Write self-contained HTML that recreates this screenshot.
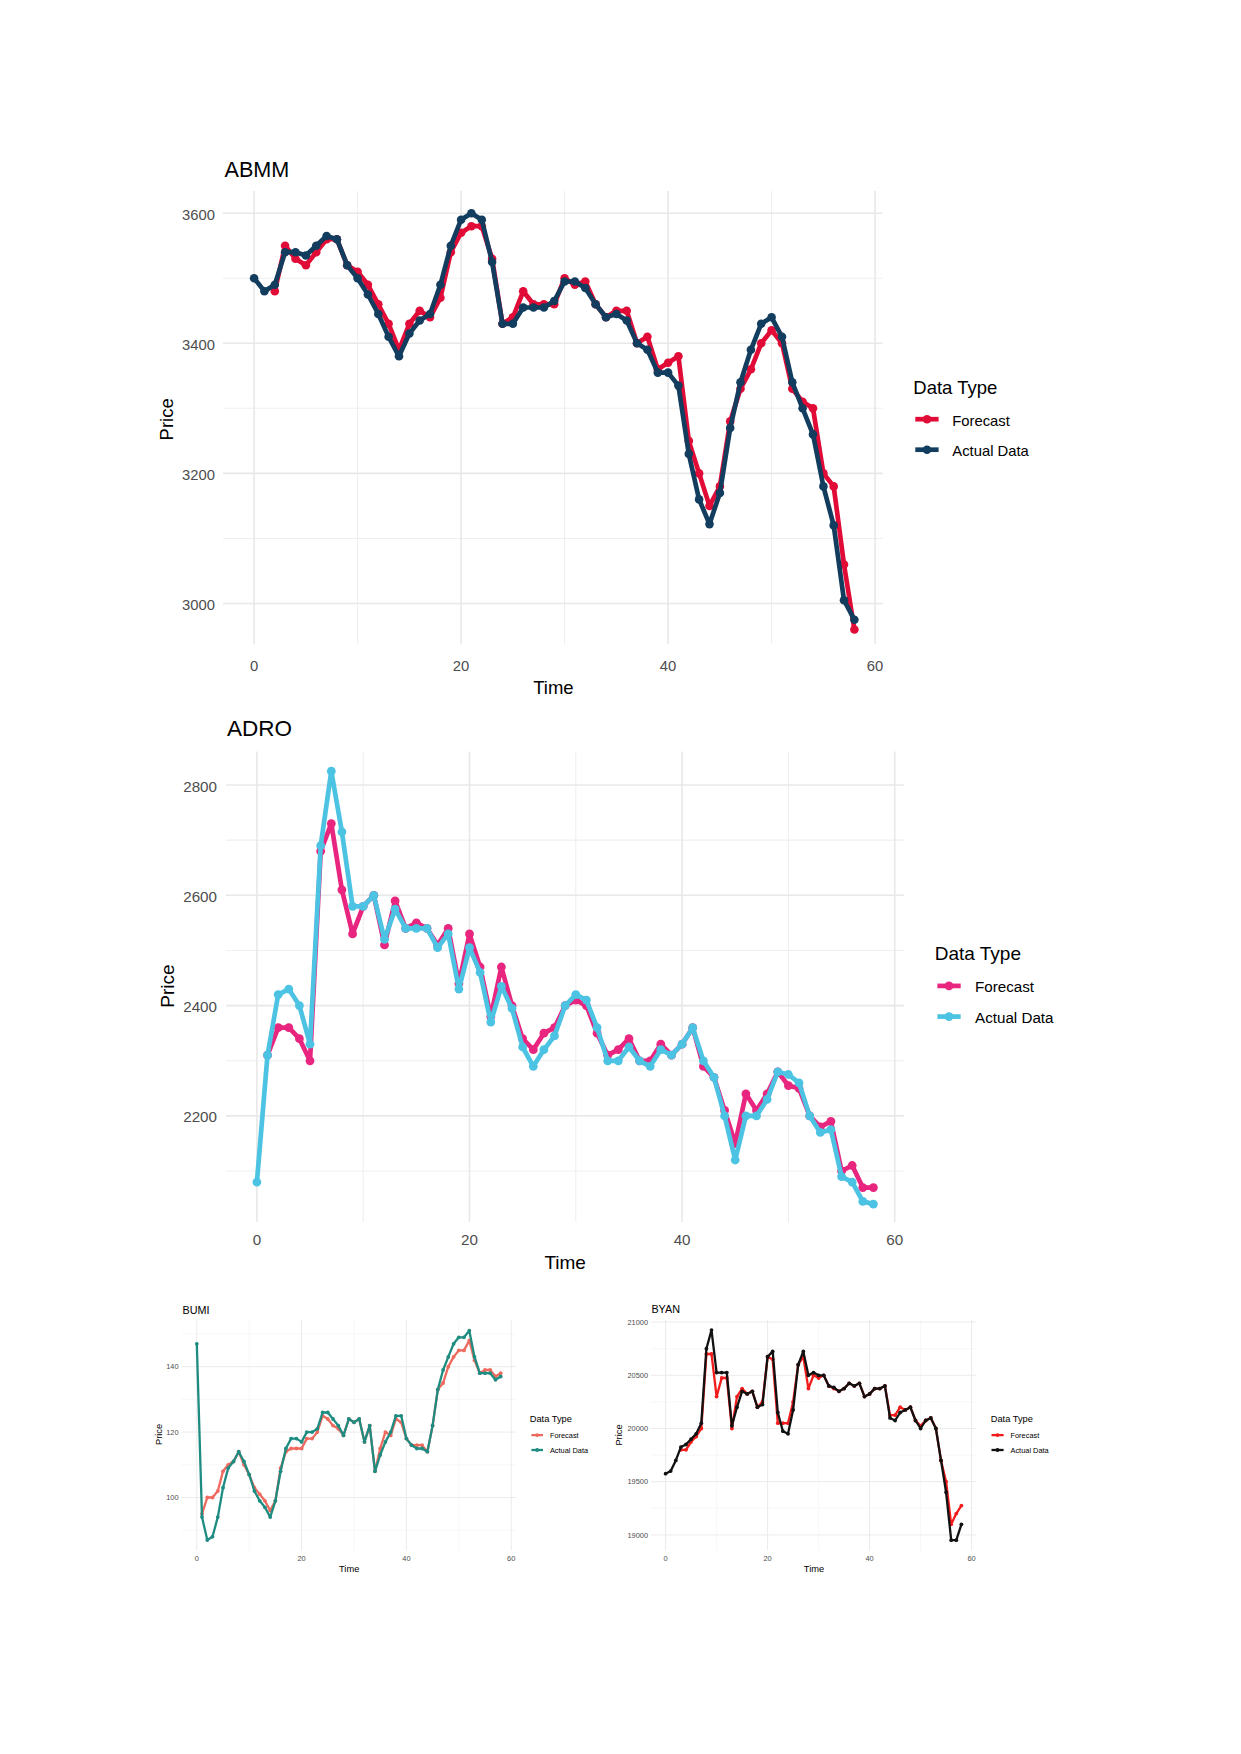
<!DOCTYPE html>
<html><head><meta charset="utf-8"><title>Forecast charts</title>
<style>
html,body{margin:0;padding:0;background:#fff;}
body{width:1241px;height:1754px;overflow:hidden;}
svg{display:block;font-family:"Liberation Sans", sans-serif;}
</style></head>
<body>
<svg width="1241" height="1754" viewBox="0 0 1241 1754">
<rect width="1241" height="1754" fill="#fff"/>
<line x1="357.6" y1="191" x2="357.6" y2="644" stroke="#efefef" stroke-width="1.1"/>
<line x1="564.6" y1="191" x2="564.6" y2="644" stroke="#efefef" stroke-width="1.1"/>
<line x1="771.6" y1="191" x2="771.6" y2="644" stroke="#efefef" stroke-width="1.1"/>
<line x1="223" y1="538.5" x2="882.5" y2="538.5" stroke="#efefef" stroke-width="1.1"/>
<line x1="223" y1="408.3" x2="882.5" y2="408.3" stroke="#efefef" stroke-width="1.1"/>
<line x1="223" y1="278.2" x2="882.5" y2="278.2" stroke="#efefef" stroke-width="1.1"/>
<line x1="254.1" y1="191" x2="254.1" y2="644" stroke="#e8e8e8" stroke-width="1.6"/>
<line x1="461.1" y1="191" x2="461.1" y2="644" stroke="#e8e8e8" stroke-width="1.6"/>
<line x1="668.1" y1="191" x2="668.1" y2="644" stroke="#e8e8e8" stroke-width="1.6"/>
<line x1="875.1" y1="191" x2="875.1" y2="644" stroke="#e8e8e8" stroke-width="1.6"/>
<line x1="223" y1="603.5" x2="882.5" y2="603.5" stroke="#e8e8e8" stroke-width="1.6"/>
<line x1="223" y1="473.4" x2="882.5" y2="473.4" stroke="#e8e8e8" stroke-width="1.6"/>
<line x1="223" y1="343.3" x2="882.5" y2="343.3" stroke="#e8e8e8" stroke-width="1.6"/>
<line x1="223" y1="213.2" x2="882.5" y2="213.2" stroke="#e8e8e8" stroke-width="1.6"/>
<polyline points="274.8,291.3 285.1,245.7 295.5,258.7 305.9,265.2 316.2,252.2 326.6,239.2 336.9,239.2 347.2,265.2 357.6,271.7 367.9,284.8 378.3,304.3 388.6,323.8 399,349.8 409.4,323.8 419.7,310.8 430,317.3 440.4,297.8 450.8,252.2 461.1,232.7 471.4,226.2 481.8,226.2 492.1,258.7 502.5,323.8 512.9,317.3 523.2,291.3 533.5,304.3 543.9,304.3 554.2,304.3 564.6,278.2 574.9,284.8 585.3,281.5 595.6,304.3 606,317.3 616.4,310.8 626.7,310.8 637,343.3 647.4,336.8 657.8,369.3 668.1,362.8 678.4,356.3 688.8,440.9 699.1,473.4 709.5,505.9 719.9,486.4 730.2,421.4 740.5,388.8 750.9,369.3 761.2,343.3 771.6,330.3 782,343.3 792.3,388.8 802.6,401.8 813,408.3 823.4,473.4 833.7,486.4 844,564.5 854.4,629.5" fill="none" stroke="#e00b36" stroke-width="4.7" stroke-linejoin="round" stroke-linecap="round"/>
<circle cx="274.8" cy="291.3" r="4.3" fill="#e00b36"/>
<circle cx="285.1" cy="245.7" r="4.3" fill="#e00b36"/>
<circle cx="295.5" cy="258.7" r="4.3" fill="#e00b36"/>
<circle cx="305.9" cy="265.2" r="4.3" fill="#e00b36"/>
<circle cx="316.2" cy="252.2" r="4.3" fill="#e00b36"/>
<circle cx="326.6" cy="239.2" r="4.3" fill="#e00b36"/>
<circle cx="336.9" cy="239.2" r="4.3" fill="#e00b36"/>
<circle cx="347.2" cy="265.2" r="4.3" fill="#e00b36"/>
<circle cx="357.6" cy="271.7" r="4.3" fill="#e00b36"/>
<circle cx="367.9" cy="284.8" r="4.3" fill="#e00b36"/>
<circle cx="378.3" cy="304.3" r="4.3" fill="#e00b36"/>
<circle cx="388.6" cy="323.8" r="4.3" fill="#e00b36"/>
<circle cx="399" cy="349.8" r="4.3" fill="#e00b36"/>
<circle cx="409.4" cy="323.8" r="4.3" fill="#e00b36"/>
<circle cx="419.7" cy="310.8" r="4.3" fill="#e00b36"/>
<circle cx="430" cy="317.3" r="4.3" fill="#e00b36"/>
<circle cx="440.4" cy="297.8" r="4.3" fill="#e00b36"/>
<circle cx="450.8" cy="252.2" r="4.3" fill="#e00b36"/>
<circle cx="461.1" cy="232.7" r="4.3" fill="#e00b36"/>
<circle cx="471.4" cy="226.2" r="4.3" fill="#e00b36"/>
<circle cx="481.8" cy="226.2" r="4.3" fill="#e00b36"/>
<circle cx="492.1" cy="258.7" r="4.3" fill="#e00b36"/>
<circle cx="502.5" cy="323.8" r="4.3" fill="#e00b36"/>
<circle cx="512.9" cy="317.3" r="4.3" fill="#e00b36"/>
<circle cx="523.2" cy="291.3" r="4.3" fill="#e00b36"/>
<circle cx="533.5" cy="304.3" r="4.3" fill="#e00b36"/>
<circle cx="543.9" cy="304.3" r="4.3" fill="#e00b36"/>
<circle cx="554.2" cy="304.3" r="4.3" fill="#e00b36"/>
<circle cx="564.6" cy="278.2" r="4.3" fill="#e00b36"/>
<circle cx="574.9" cy="284.8" r="4.3" fill="#e00b36"/>
<circle cx="585.3" cy="281.5" r="4.3" fill="#e00b36"/>
<circle cx="595.6" cy="304.3" r="4.3" fill="#e00b36"/>
<circle cx="606" cy="317.3" r="4.3" fill="#e00b36"/>
<circle cx="616.4" cy="310.8" r="4.3" fill="#e00b36"/>
<circle cx="626.7" cy="310.8" r="4.3" fill="#e00b36"/>
<circle cx="637" cy="343.3" r="4.3" fill="#e00b36"/>
<circle cx="647.4" cy="336.8" r="4.3" fill="#e00b36"/>
<circle cx="657.8" cy="369.3" r="4.3" fill="#e00b36"/>
<circle cx="668.1" cy="362.8" r="4.3" fill="#e00b36"/>
<circle cx="678.4" cy="356.3" r="4.3" fill="#e00b36"/>
<circle cx="688.8" cy="440.9" r="4.3" fill="#e00b36"/>
<circle cx="699.1" cy="473.4" r="4.3" fill="#e00b36"/>
<circle cx="709.5" cy="505.9" r="4.3" fill="#e00b36"/>
<circle cx="719.9" cy="486.4" r="4.3" fill="#e00b36"/>
<circle cx="730.2" cy="421.4" r="4.3" fill="#e00b36"/>
<circle cx="740.5" cy="388.8" r="4.3" fill="#e00b36"/>
<circle cx="750.9" cy="369.3" r="4.3" fill="#e00b36"/>
<circle cx="761.2" cy="343.3" r="4.3" fill="#e00b36"/>
<circle cx="771.6" cy="330.3" r="4.3" fill="#e00b36"/>
<circle cx="782" cy="343.3" r="4.3" fill="#e00b36"/>
<circle cx="792.3" cy="388.8" r="4.3" fill="#e00b36"/>
<circle cx="802.6" cy="401.8" r="4.3" fill="#e00b36"/>
<circle cx="813" cy="408.3" r="4.3" fill="#e00b36"/>
<circle cx="823.4" cy="473.4" r="4.3" fill="#e00b36"/>
<circle cx="833.7" cy="486.4" r="4.3" fill="#e00b36"/>
<circle cx="844" cy="564.5" r="4.3" fill="#e00b36"/>
<circle cx="854.4" cy="629.5" r="4.3" fill="#e00b36"/>
<polyline points="254.1,278.2 264.4,291.3 274.8,284.8 285.1,252.2 295.5,252.2 305.9,255.5 316.2,245.7 326.6,236 336.9,239.2 347.2,265.2 357.6,278.2 367.9,294.5 378.3,314 388.6,336.8 399,356.3 409.4,333.5 419.7,320.5 430,314 440.4,284.8 450.8,245.7 461.1,219.7 471.4,213.2 481.8,219.7 492.1,262 502.5,323.8 512.9,323.8 523.2,307.5 533.5,307.5 543.9,307.5 554.2,301 564.6,281.5 574.9,281.5 585.3,288 595.6,304.3 606,317.3 616.4,314 626.7,320.5 637,343.3 647.4,349.8 657.8,372.6 668.1,372.6 678.4,385.6 688.8,453.9 699.1,499.4 709.5,524.1 719.9,492.9 730.2,427.9 740.5,382.3 750.9,349.8 761.2,323.8 771.6,317.3 782,336.8 792.3,382.3 802.6,408.3 813,434.4 823.4,486.4 833.7,525.4 844,600.2 854.4,619.8" fill="none" stroke="#123d5e" stroke-width="4.7" stroke-linejoin="round" stroke-linecap="round"/>
<circle cx="254.1" cy="278.2" r="4.3" fill="#123d5e"/>
<circle cx="264.4" cy="291.3" r="4.3" fill="#123d5e"/>
<circle cx="274.8" cy="284.8" r="4.3" fill="#123d5e"/>
<circle cx="285.1" cy="252.2" r="4.3" fill="#123d5e"/>
<circle cx="295.5" cy="252.2" r="4.3" fill="#123d5e"/>
<circle cx="305.9" cy="255.5" r="4.3" fill="#123d5e"/>
<circle cx="316.2" cy="245.7" r="4.3" fill="#123d5e"/>
<circle cx="326.6" cy="236" r="4.3" fill="#123d5e"/>
<circle cx="336.9" cy="239.2" r="4.3" fill="#123d5e"/>
<circle cx="347.2" cy="265.2" r="4.3" fill="#123d5e"/>
<circle cx="357.6" cy="278.2" r="4.3" fill="#123d5e"/>
<circle cx="367.9" cy="294.5" r="4.3" fill="#123d5e"/>
<circle cx="378.3" cy="314" r="4.3" fill="#123d5e"/>
<circle cx="388.6" cy="336.8" r="4.3" fill="#123d5e"/>
<circle cx="399" cy="356.3" r="4.3" fill="#123d5e"/>
<circle cx="409.4" cy="333.5" r="4.3" fill="#123d5e"/>
<circle cx="419.7" cy="320.5" r="4.3" fill="#123d5e"/>
<circle cx="430" cy="314" r="4.3" fill="#123d5e"/>
<circle cx="440.4" cy="284.8" r="4.3" fill="#123d5e"/>
<circle cx="450.8" cy="245.7" r="4.3" fill="#123d5e"/>
<circle cx="461.1" cy="219.7" r="4.3" fill="#123d5e"/>
<circle cx="471.4" cy="213.2" r="4.3" fill="#123d5e"/>
<circle cx="481.8" cy="219.7" r="4.3" fill="#123d5e"/>
<circle cx="492.1" cy="262" r="4.3" fill="#123d5e"/>
<circle cx="502.5" cy="323.8" r="4.3" fill="#123d5e"/>
<circle cx="512.9" cy="323.8" r="4.3" fill="#123d5e"/>
<circle cx="523.2" cy="307.5" r="4.3" fill="#123d5e"/>
<circle cx="533.5" cy="307.5" r="4.3" fill="#123d5e"/>
<circle cx="543.9" cy="307.5" r="4.3" fill="#123d5e"/>
<circle cx="554.2" cy="301" r="4.3" fill="#123d5e"/>
<circle cx="564.6" cy="281.5" r="4.3" fill="#123d5e"/>
<circle cx="574.9" cy="281.5" r="4.3" fill="#123d5e"/>
<circle cx="585.3" cy="288" r="4.3" fill="#123d5e"/>
<circle cx="595.6" cy="304.3" r="4.3" fill="#123d5e"/>
<circle cx="606" cy="317.3" r="4.3" fill="#123d5e"/>
<circle cx="616.4" cy="314" r="4.3" fill="#123d5e"/>
<circle cx="626.7" cy="320.5" r="4.3" fill="#123d5e"/>
<circle cx="637" cy="343.3" r="4.3" fill="#123d5e"/>
<circle cx="647.4" cy="349.8" r="4.3" fill="#123d5e"/>
<circle cx="657.8" cy="372.6" r="4.3" fill="#123d5e"/>
<circle cx="668.1" cy="372.6" r="4.3" fill="#123d5e"/>
<circle cx="678.4" cy="385.6" r="4.3" fill="#123d5e"/>
<circle cx="688.8" cy="453.9" r="4.3" fill="#123d5e"/>
<circle cx="699.1" cy="499.4" r="4.3" fill="#123d5e"/>
<circle cx="709.5" cy="524.1" r="4.3" fill="#123d5e"/>
<circle cx="719.9" cy="492.9" r="4.3" fill="#123d5e"/>
<circle cx="730.2" cy="427.9" r="4.3" fill="#123d5e"/>
<circle cx="740.5" cy="382.3" r="4.3" fill="#123d5e"/>
<circle cx="750.9" cy="349.8" r="4.3" fill="#123d5e"/>
<circle cx="761.2" cy="323.8" r="4.3" fill="#123d5e"/>
<circle cx="771.6" cy="317.3" r="4.3" fill="#123d5e"/>
<circle cx="782" cy="336.8" r="4.3" fill="#123d5e"/>
<circle cx="792.3" cy="382.3" r="4.3" fill="#123d5e"/>
<circle cx="802.6" cy="408.3" r="4.3" fill="#123d5e"/>
<circle cx="813" cy="434.4" r="4.3" fill="#123d5e"/>
<circle cx="823.4" cy="486.4" r="4.3" fill="#123d5e"/>
<circle cx="833.7" cy="525.4" r="4.3" fill="#123d5e"/>
<circle cx="844" cy="600.2" r="4.3" fill="#123d5e"/>
<circle cx="854.4" cy="619.8" r="4.3" fill="#123d5e"/>
<text x="224.5" y="177" font-size="21.6" fill="#000">ABMM</text>
<text x="215" y="609.8" font-size="14.8" fill="#4d4d4d" text-anchor="end">3000</text>
<text x="215" y="479.7" font-size="14.8" fill="#4d4d4d" text-anchor="end">3200</text>
<text x="215" y="349.6" font-size="14.8" fill="#4d4d4d" text-anchor="end">3400</text>
<text x="215" y="219.5" font-size="14.8" fill="#4d4d4d" text-anchor="end">3600</text>
<text x="254.1" y="671" font-size="14.8" fill="#4d4d4d" text-anchor="middle">0</text>
<text x="461.1" y="671" font-size="14.8" fill="#4d4d4d" text-anchor="middle">20</text>
<text x="668.1" y="671" font-size="14.8" fill="#4d4d4d" text-anchor="middle">40</text>
<text x="875.1" y="671" font-size="14.8" fill="#4d4d4d" text-anchor="middle">60</text>
<text x="553.4" y="694" font-size="18.5" fill="#000" text-anchor="middle">Time</text>
<text transform="translate(173 419.3) rotate(-90)" font-size="18.5" fill="#000" text-anchor="middle">Price</text>
<text x="913.3" y="394" font-size="18.5" fill="#000">Data Type</text>
<line x1="915.3" y1="419.2" x2="938.6" y2="419.2" stroke="#e00b36" stroke-width="4.7"/>
<circle cx="927" cy="419.2" r="4.3" fill="#e00b36"/>
<text x="952.3" y="425.5" font-size="14.8" fill="#000">Forecast</text>
<line x1="915.3" y1="449.7" x2="938.6" y2="449.7" stroke="#123d5e" stroke-width="4.7"/>
<circle cx="927" cy="449.7" r="4.3" fill="#123d5e"/>
<text x="952.3" y="456" font-size="14.8" fill="#000">Actual Data</text>
<line x1="363.2" y1="751.5" x2="363.2" y2="1222" stroke="#efefef" stroke-width="1.1"/>
<line x1="575.8" y1="751.5" x2="575.8" y2="1222" stroke="#efefef" stroke-width="1.1"/>
<line x1="788.4" y1="751.5" x2="788.4" y2="1222" stroke="#efefef" stroke-width="1.1"/>
<line x1="226" y1="1171" x2="904.3" y2="1171" stroke="#efefef" stroke-width="1.1"/>
<line x1="226" y1="1060.8" x2="904.3" y2="1060.8" stroke="#efefef" stroke-width="1.1"/>
<line x1="226" y1="950.5" x2="904.3" y2="950.5" stroke="#efefef" stroke-width="1.1"/>
<line x1="226" y1="840.1" x2="904.3" y2="840.1" stroke="#efefef" stroke-width="1.1"/>
<line x1="256.9" y1="751.5" x2="256.9" y2="1222" stroke="#e8e8e8" stroke-width="1.6"/>
<line x1="469.5" y1="751.5" x2="469.5" y2="1222" stroke="#e8e8e8" stroke-width="1.6"/>
<line x1="682.1" y1="751.5" x2="682.1" y2="1222" stroke="#e8e8e8" stroke-width="1.6"/>
<line x1="894.7" y1="751.5" x2="894.7" y2="1222" stroke="#e8e8e8" stroke-width="1.6"/>
<line x1="226" y1="1115.9" x2="904.3" y2="1115.9" stroke="#e8e8e8" stroke-width="1.6"/>
<line x1="226" y1="1005.6" x2="904.3" y2="1005.6" stroke="#e8e8e8" stroke-width="1.6"/>
<line x1="226" y1="895.3" x2="904.3" y2="895.3" stroke="#e8e8e8" stroke-width="1.6"/>
<line x1="226" y1="785" x2="904.3" y2="785" stroke="#e8e8e8" stroke-width="1.6"/>
<polyline points="267.5,1055.2 278.2,1027.7 288.8,1027.7 299.4,1038.7 310,1060.8 320.7,851.2 331.3,823.6 341.9,889.8 352.6,933.9 363.2,906.3 373.8,895.3 384.5,944.9 395.1,900.8 405.7,928.4 416.4,922.9 427,928.4 437.6,944.9 448.2,928.4 458.9,983.5 469.5,933.9 480.1,967 490.8,1016.6 501.4,967 512,1005.6 522.6,1038.7 533.3,1049.7 543.9,1033.2 554.5,1027.7 565.2,1005.6 575.8,1000.1 586.4,1005.6 597.1,1033.2 607.7,1055.2 618.3,1049.7 629,1038.7 639.6,1060.8 650.2,1060.8 660.8,1044.2 671.5,1055.2 682.1,1044.2 692.7,1027.7 703.4,1066.3 714,1077.3 724.6,1110.4 735.2,1143.5 745.9,1093.8 756.5,1110.4 767.1,1093.8 777.8,1071.8 788.4,1085.6 799,1088.3 809.7,1115.9 820.3,1126.9 830.9,1121.4 841.6,1171 852.2,1165.5 862.8,1187.6 873.4,1187.6" fill="none" stroke="#e8257f" stroke-width="4.7" stroke-linejoin="round" stroke-linecap="round"/>
<circle cx="267.5" cy="1055.2" r="4.4" fill="#e8257f"/>
<circle cx="278.2" cy="1027.7" r="4.4" fill="#e8257f"/>
<circle cx="288.8" cy="1027.7" r="4.4" fill="#e8257f"/>
<circle cx="299.4" cy="1038.7" r="4.4" fill="#e8257f"/>
<circle cx="310" cy="1060.8" r="4.4" fill="#e8257f"/>
<circle cx="320.7" cy="851.2" r="4.4" fill="#e8257f"/>
<circle cx="331.3" cy="823.6" r="4.4" fill="#e8257f"/>
<circle cx="341.9" cy="889.8" r="4.4" fill="#e8257f"/>
<circle cx="352.6" cy="933.9" r="4.4" fill="#e8257f"/>
<circle cx="363.2" cy="906.3" r="4.4" fill="#e8257f"/>
<circle cx="373.8" cy="895.3" r="4.4" fill="#e8257f"/>
<circle cx="384.5" cy="944.9" r="4.4" fill="#e8257f"/>
<circle cx="395.1" cy="900.8" r="4.4" fill="#e8257f"/>
<circle cx="405.7" cy="928.4" r="4.4" fill="#e8257f"/>
<circle cx="416.4" cy="922.9" r="4.4" fill="#e8257f"/>
<circle cx="427" cy="928.4" r="4.4" fill="#e8257f"/>
<circle cx="437.6" cy="944.9" r="4.4" fill="#e8257f"/>
<circle cx="448.2" cy="928.4" r="4.4" fill="#e8257f"/>
<circle cx="458.9" cy="983.5" r="4.4" fill="#e8257f"/>
<circle cx="469.5" cy="933.9" r="4.4" fill="#e8257f"/>
<circle cx="480.1" cy="967" r="4.4" fill="#e8257f"/>
<circle cx="490.8" cy="1016.6" r="4.4" fill="#e8257f"/>
<circle cx="501.4" cy="967" r="4.4" fill="#e8257f"/>
<circle cx="512" cy="1005.6" r="4.4" fill="#e8257f"/>
<circle cx="522.6" cy="1038.7" r="4.4" fill="#e8257f"/>
<circle cx="533.3" cy="1049.7" r="4.4" fill="#e8257f"/>
<circle cx="543.9" cy="1033.2" r="4.4" fill="#e8257f"/>
<circle cx="554.5" cy="1027.7" r="4.4" fill="#e8257f"/>
<circle cx="565.2" cy="1005.6" r="4.4" fill="#e8257f"/>
<circle cx="575.8" cy="1000.1" r="4.4" fill="#e8257f"/>
<circle cx="586.4" cy="1005.6" r="4.4" fill="#e8257f"/>
<circle cx="597.1" cy="1033.2" r="4.4" fill="#e8257f"/>
<circle cx="607.7" cy="1055.2" r="4.4" fill="#e8257f"/>
<circle cx="618.3" cy="1049.7" r="4.4" fill="#e8257f"/>
<circle cx="629" cy="1038.7" r="4.4" fill="#e8257f"/>
<circle cx="639.6" cy="1060.8" r="4.4" fill="#e8257f"/>
<circle cx="650.2" cy="1060.8" r="4.4" fill="#e8257f"/>
<circle cx="660.8" cy="1044.2" r="4.4" fill="#e8257f"/>
<circle cx="671.5" cy="1055.2" r="4.4" fill="#e8257f"/>
<circle cx="682.1" cy="1044.2" r="4.4" fill="#e8257f"/>
<circle cx="692.7" cy="1027.7" r="4.4" fill="#e8257f"/>
<circle cx="703.4" cy="1066.3" r="4.4" fill="#e8257f"/>
<circle cx="714" cy="1077.3" r="4.4" fill="#e8257f"/>
<circle cx="724.6" cy="1110.4" r="4.4" fill="#e8257f"/>
<circle cx="735.2" cy="1143.5" r="4.4" fill="#e8257f"/>
<circle cx="745.9" cy="1093.8" r="4.4" fill="#e8257f"/>
<circle cx="756.5" cy="1110.4" r="4.4" fill="#e8257f"/>
<circle cx="767.1" cy="1093.8" r="4.4" fill="#e8257f"/>
<circle cx="777.8" cy="1071.8" r="4.4" fill="#e8257f"/>
<circle cx="788.4" cy="1085.6" r="4.4" fill="#e8257f"/>
<circle cx="799" cy="1088.3" r="4.4" fill="#e8257f"/>
<circle cx="809.7" cy="1115.9" r="4.4" fill="#e8257f"/>
<circle cx="820.3" cy="1126.9" r="4.4" fill="#e8257f"/>
<circle cx="830.9" cy="1121.4" r="4.4" fill="#e8257f"/>
<circle cx="841.6" cy="1171" r="4.4" fill="#e8257f"/>
<circle cx="852.2" cy="1165.5" r="4.4" fill="#e8257f"/>
<circle cx="862.8" cy="1187.6" r="4.4" fill="#e8257f"/>
<circle cx="873.4" cy="1187.6" r="4.4" fill="#e8257f"/>
<polyline points="256.9,1182.1 267.5,1055.2 278.2,994.6 288.8,989.1 299.4,1005.6 310,1044.2 320.7,845.7 331.3,771.2 341.9,831.9 352.6,906.3 363.2,906.3 373.8,895.3 384.5,939.4 395.1,909.1 405.7,928.4 416.4,928.4 427,928.4 437.6,947.7 448.2,933.9 458.9,989.1 469.5,947.7 480.1,972.5 490.8,1022.1 501.4,986.3 512,1008.4 522.6,1047 533.3,1066.3 543.9,1049.7 554.5,1035.9 565.2,1005.6 575.8,994.6 586.4,1000.1 597.1,1027.7 607.7,1060.8 618.3,1060.8 629,1047 639.6,1060.8 650.2,1066.3 660.8,1049.7 671.5,1055.2 682.1,1044.2 692.7,1027.7 703.4,1060.8 714,1077.3 724.6,1115.9 735.2,1160 745.9,1115.9 756.5,1115.9 767.1,1099.4 777.8,1071.8 788.4,1074.5 799,1082.8 809.7,1115.9 820.3,1132.4 830.9,1129.7 841.6,1176.6 852.2,1182.1 862.8,1201.4 873.4,1204.1" fill="none" stroke="#4cc3e3" stroke-width="4.7" stroke-linejoin="round" stroke-linecap="round"/>
<circle cx="256.9" cy="1182.1" r="4.4" fill="#4cc3e3"/>
<circle cx="267.5" cy="1055.2" r="4.4" fill="#4cc3e3"/>
<circle cx="278.2" cy="994.6" r="4.4" fill="#4cc3e3"/>
<circle cx="288.8" cy="989.1" r="4.4" fill="#4cc3e3"/>
<circle cx="299.4" cy="1005.6" r="4.4" fill="#4cc3e3"/>
<circle cx="310" cy="1044.2" r="4.4" fill="#4cc3e3"/>
<circle cx="320.7" cy="845.7" r="4.4" fill="#4cc3e3"/>
<circle cx="331.3" cy="771.2" r="4.4" fill="#4cc3e3"/>
<circle cx="341.9" cy="831.9" r="4.4" fill="#4cc3e3"/>
<circle cx="352.6" cy="906.3" r="4.4" fill="#4cc3e3"/>
<circle cx="363.2" cy="906.3" r="4.4" fill="#4cc3e3"/>
<circle cx="373.8" cy="895.3" r="4.4" fill="#4cc3e3"/>
<circle cx="384.5" cy="939.4" r="4.4" fill="#4cc3e3"/>
<circle cx="395.1" cy="909.1" r="4.4" fill="#4cc3e3"/>
<circle cx="405.7" cy="928.4" r="4.4" fill="#4cc3e3"/>
<circle cx="416.4" cy="928.4" r="4.4" fill="#4cc3e3"/>
<circle cx="427" cy="928.4" r="4.4" fill="#4cc3e3"/>
<circle cx="437.6" cy="947.7" r="4.4" fill="#4cc3e3"/>
<circle cx="448.2" cy="933.9" r="4.4" fill="#4cc3e3"/>
<circle cx="458.9" cy="989.1" r="4.4" fill="#4cc3e3"/>
<circle cx="469.5" cy="947.7" r="4.4" fill="#4cc3e3"/>
<circle cx="480.1" cy="972.5" r="4.4" fill="#4cc3e3"/>
<circle cx="490.8" cy="1022.1" r="4.4" fill="#4cc3e3"/>
<circle cx="501.4" cy="986.3" r="4.4" fill="#4cc3e3"/>
<circle cx="512" cy="1008.4" r="4.4" fill="#4cc3e3"/>
<circle cx="522.6" cy="1047" r="4.4" fill="#4cc3e3"/>
<circle cx="533.3" cy="1066.3" r="4.4" fill="#4cc3e3"/>
<circle cx="543.9" cy="1049.7" r="4.4" fill="#4cc3e3"/>
<circle cx="554.5" cy="1035.9" r="4.4" fill="#4cc3e3"/>
<circle cx="565.2" cy="1005.6" r="4.4" fill="#4cc3e3"/>
<circle cx="575.8" cy="994.6" r="4.4" fill="#4cc3e3"/>
<circle cx="586.4" cy="1000.1" r="4.4" fill="#4cc3e3"/>
<circle cx="597.1" cy="1027.7" r="4.4" fill="#4cc3e3"/>
<circle cx="607.7" cy="1060.8" r="4.4" fill="#4cc3e3"/>
<circle cx="618.3" cy="1060.8" r="4.4" fill="#4cc3e3"/>
<circle cx="629" cy="1047" r="4.4" fill="#4cc3e3"/>
<circle cx="639.6" cy="1060.8" r="4.4" fill="#4cc3e3"/>
<circle cx="650.2" cy="1066.3" r="4.4" fill="#4cc3e3"/>
<circle cx="660.8" cy="1049.7" r="4.4" fill="#4cc3e3"/>
<circle cx="671.5" cy="1055.2" r="4.4" fill="#4cc3e3"/>
<circle cx="682.1" cy="1044.2" r="4.4" fill="#4cc3e3"/>
<circle cx="692.7" cy="1027.7" r="4.4" fill="#4cc3e3"/>
<circle cx="703.4" cy="1060.8" r="4.4" fill="#4cc3e3"/>
<circle cx="714" cy="1077.3" r="4.4" fill="#4cc3e3"/>
<circle cx="724.6" cy="1115.9" r="4.4" fill="#4cc3e3"/>
<circle cx="735.2" cy="1160" r="4.4" fill="#4cc3e3"/>
<circle cx="745.9" cy="1115.9" r="4.4" fill="#4cc3e3"/>
<circle cx="756.5" cy="1115.9" r="4.4" fill="#4cc3e3"/>
<circle cx="767.1" cy="1099.4" r="4.4" fill="#4cc3e3"/>
<circle cx="777.8" cy="1071.8" r="4.4" fill="#4cc3e3"/>
<circle cx="788.4" cy="1074.5" r="4.4" fill="#4cc3e3"/>
<circle cx="799" cy="1082.8" r="4.4" fill="#4cc3e3"/>
<circle cx="809.7" cy="1115.9" r="4.4" fill="#4cc3e3"/>
<circle cx="820.3" cy="1132.4" r="4.4" fill="#4cc3e3"/>
<circle cx="830.9" cy="1129.7" r="4.4" fill="#4cc3e3"/>
<circle cx="841.6" cy="1176.6" r="4.4" fill="#4cc3e3"/>
<circle cx="852.2" cy="1182.1" r="4.4" fill="#4cc3e3"/>
<circle cx="862.8" cy="1201.4" r="4.4" fill="#4cc3e3"/>
<circle cx="873.4" cy="1204.1" r="4.4" fill="#4cc3e3"/>
<text x="227" y="736.3" font-size="22.5" fill="#000">ADRO</text>
<text x="217" y="1122.4" font-size="15.2" fill="#4d4d4d" text-anchor="end">2200</text>
<text x="217" y="1012.1" font-size="15.2" fill="#4d4d4d" text-anchor="end">2400</text>
<text x="217" y="901.8" font-size="15.2" fill="#4d4d4d" text-anchor="end">2600</text>
<text x="217" y="791.5" font-size="15.2" fill="#4d4d4d" text-anchor="end">2800</text>
<text x="256.9" y="1244.7" font-size="15.2" fill="#4d4d4d" text-anchor="middle">0</text>
<text x="469.5" y="1244.7" font-size="15.2" fill="#4d4d4d" text-anchor="middle">20</text>
<text x="682.1" y="1244.7" font-size="15.2" fill="#4d4d4d" text-anchor="middle">40</text>
<text x="894.7" y="1244.7" font-size="15.2" fill="#4d4d4d" text-anchor="middle">60</text>
<text x="565.2" y="1269" font-size="19" fill="#000" text-anchor="middle">Time</text>
<text transform="translate(173.5 986.1) rotate(-90)" font-size="19" fill="#000" text-anchor="middle">Price</text>
<text x="934.7" y="959.5" font-size="19" fill="#000">Data Type</text>
<line x1="937.4" y1="985.9" x2="960.7" y2="985.9" stroke="#e8257f" stroke-width="4.7"/>
<circle cx="949" cy="985.9" r="4.4" fill="#e8257f"/>
<text x="975" y="992.4" font-size="15.2" fill="#000">Forecast</text>
<line x1="937.4" y1="1016.6" x2="960.7" y2="1016.6" stroke="#4cc3e3" stroke-width="4.7"/>
<circle cx="949" cy="1016.6" r="4.4" fill="#4cc3e3"/>
<text x="975" y="1023.1" font-size="15.2" fill="#000">Actual Data</text>
<line x1="249.2" y1="1320" x2="249.2" y2="1550.5" stroke="#f3f3f3" stroke-width="0.7"/>
<line x1="354" y1="1320" x2="354" y2="1550.5" stroke="#f3f3f3" stroke-width="0.7"/>
<line x1="458.8" y1="1320" x2="458.8" y2="1550.5" stroke="#f3f3f3" stroke-width="0.7"/>
<line x1="181.6" y1="1530.2" x2="516" y2="1530.2" stroke="#f3f3f3" stroke-width="0.7"/>
<line x1="181.6" y1="1464.8" x2="516" y2="1464.8" stroke="#f3f3f3" stroke-width="0.7"/>
<line x1="181.6" y1="1399.4" x2="516" y2="1399.4" stroke="#f3f3f3" stroke-width="0.7"/>
<line x1="181.6" y1="1334" x2="516" y2="1334" stroke="#f3f3f3" stroke-width="0.7"/>
<line x1="196.8" y1="1320" x2="196.8" y2="1550.5" stroke="#ebebeb" stroke-width="1.0"/>
<line x1="301.6" y1="1320" x2="301.6" y2="1550.5" stroke="#ebebeb" stroke-width="1.0"/>
<line x1="406.4" y1="1320" x2="406.4" y2="1550.5" stroke="#ebebeb" stroke-width="1.0"/>
<line x1="511.2" y1="1320" x2="511.2" y2="1550.5" stroke="#ebebeb" stroke-width="1.0"/>
<line x1="181.6" y1="1497.5" x2="516" y2="1497.5" stroke="#ebebeb" stroke-width="1.0"/>
<line x1="181.6" y1="1432.1" x2="516" y2="1432.1" stroke="#ebebeb" stroke-width="1.0"/>
<line x1="181.6" y1="1366.7" x2="516" y2="1366.7" stroke="#ebebeb" stroke-width="1.0"/>
<polyline points="202,1513.9 207.3,1497.5 212.5,1497.5 217.8,1491 223,1471.3 228.2,1464.8 233.5,1461.5 238.7,1451.7 244,1464.8 249.2,1474.6 254.4,1487.7 259.7,1494.2 264.9,1500.8 270.2,1510.6 275.4,1500.8 280.6,1468.1 285.9,1451.7 291.1,1448.5 296.4,1448.5 301.6,1448.5 306.8,1438.6 312.1,1438.6 317.3,1432.1 322.6,1415.8 327.8,1419 333,1425.6 338.3,1428.8 343.5,1435.4 348.8,1419 354,1422.3 359.2,1419 364.5,1441.9 369.7,1425.6 375,1471.3 380.2,1448.5 385.4,1432.1 390.7,1435.4 395.9,1419 401.2,1422.3 406.4,1438.6 411.6,1445.2 416.9,1445.2 422.1,1445.2 427.4,1451.7 432.6,1425.6 437.8,1389.6 443.1,1383 448.3,1366.7 453.6,1356.9 458.8,1350.4 464,1350.4 469.3,1340.5 474.5,1360.2 479.8,1373.2 485,1370 490.2,1370 495.5,1376.5 500.7,1373.2" fill="none" stroke="#ee6a5e" stroke-width="2.3" stroke-linejoin="round" stroke-linecap="round"/>
<circle cx="202" cy="1513.9" r="1.9" fill="#ee6a5e"/>
<circle cx="207.3" cy="1497.5" r="1.9" fill="#ee6a5e"/>
<circle cx="212.5" cy="1497.5" r="1.9" fill="#ee6a5e"/>
<circle cx="217.8" cy="1491" r="1.9" fill="#ee6a5e"/>
<circle cx="223" cy="1471.3" r="1.9" fill="#ee6a5e"/>
<circle cx="228.2" cy="1464.8" r="1.9" fill="#ee6a5e"/>
<circle cx="233.5" cy="1461.5" r="1.9" fill="#ee6a5e"/>
<circle cx="238.7" cy="1451.7" r="1.9" fill="#ee6a5e"/>
<circle cx="244" cy="1464.8" r="1.9" fill="#ee6a5e"/>
<circle cx="249.2" cy="1474.6" r="1.9" fill="#ee6a5e"/>
<circle cx="254.4" cy="1487.7" r="1.9" fill="#ee6a5e"/>
<circle cx="259.7" cy="1494.2" r="1.9" fill="#ee6a5e"/>
<circle cx="264.9" cy="1500.8" r="1.9" fill="#ee6a5e"/>
<circle cx="270.2" cy="1510.6" r="1.9" fill="#ee6a5e"/>
<circle cx="275.4" cy="1500.8" r="1.9" fill="#ee6a5e"/>
<circle cx="280.6" cy="1468.1" r="1.9" fill="#ee6a5e"/>
<circle cx="285.9" cy="1451.7" r="1.9" fill="#ee6a5e"/>
<circle cx="291.1" cy="1448.5" r="1.9" fill="#ee6a5e"/>
<circle cx="296.4" cy="1448.5" r="1.9" fill="#ee6a5e"/>
<circle cx="301.6" cy="1448.5" r="1.9" fill="#ee6a5e"/>
<circle cx="306.8" cy="1438.6" r="1.9" fill="#ee6a5e"/>
<circle cx="312.1" cy="1438.6" r="1.9" fill="#ee6a5e"/>
<circle cx="317.3" cy="1432.1" r="1.9" fill="#ee6a5e"/>
<circle cx="322.6" cy="1415.8" r="1.9" fill="#ee6a5e"/>
<circle cx="327.8" cy="1419" r="1.9" fill="#ee6a5e"/>
<circle cx="333" cy="1425.6" r="1.9" fill="#ee6a5e"/>
<circle cx="338.3" cy="1428.8" r="1.9" fill="#ee6a5e"/>
<circle cx="343.5" cy="1435.4" r="1.9" fill="#ee6a5e"/>
<circle cx="348.8" cy="1419" r="1.9" fill="#ee6a5e"/>
<circle cx="354" cy="1422.3" r="1.9" fill="#ee6a5e"/>
<circle cx="359.2" cy="1419" r="1.9" fill="#ee6a5e"/>
<circle cx="364.5" cy="1441.9" r="1.9" fill="#ee6a5e"/>
<circle cx="369.7" cy="1425.6" r="1.9" fill="#ee6a5e"/>
<circle cx="375" cy="1471.3" r="1.9" fill="#ee6a5e"/>
<circle cx="380.2" cy="1448.5" r="1.9" fill="#ee6a5e"/>
<circle cx="385.4" cy="1432.1" r="1.9" fill="#ee6a5e"/>
<circle cx="390.7" cy="1435.4" r="1.9" fill="#ee6a5e"/>
<circle cx="395.9" cy="1419" r="1.9" fill="#ee6a5e"/>
<circle cx="401.2" cy="1422.3" r="1.9" fill="#ee6a5e"/>
<circle cx="406.4" cy="1438.6" r="1.9" fill="#ee6a5e"/>
<circle cx="411.6" cy="1445.2" r="1.9" fill="#ee6a5e"/>
<circle cx="416.9" cy="1445.2" r="1.9" fill="#ee6a5e"/>
<circle cx="422.1" cy="1445.2" r="1.9" fill="#ee6a5e"/>
<circle cx="427.4" cy="1451.7" r="1.9" fill="#ee6a5e"/>
<circle cx="432.6" cy="1425.6" r="1.9" fill="#ee6a5e"/>
<circle cx="437.8" cy="1389.6" r="1.9" fill="#ee6a5e"/>
<circle cx="443.1" cy="1383" r="1.9" fill="#ee6a5e"/>
<circle cx="448.3" cy="1366.7" r="1.9" fill="#ee6a5e"/>
<circle cx="453.6" cy="1356.9" r="1.9" fill="#ee6a5e"/>
<circle cx="458.8" cy="1350.4" r="1.9" fill="#ee6a5e"/>
<circle cx="464" cy="1350.4" r="1.9" fill="#ee6a5e"/>
<circle cx="469.3" cy="1340.5" r="1.9" fill="#ee6a5e"/>
<circle cx="474.5" cy="1360.2" r="1.9" fill="#ee6a5e"/>
<circle cx="479.8" cy="1373.2" r="1.9" fill="#ee6a5e"/>
<circle cx="485" cy="1370" r="1.9" fill="#ee6a5e"/>
<circle cx="490.2" cy="1370" r="1.9" fill="#ee6a5e"/>
<circle cx="495.5" cy="1376.5" r="1.9" fill="#ee6a5e"/>
<circle cx="500.7" cy="1373.2" r="1.9" fill="#ee6a5e"/>
<polyline points="196.8,1343.8 202,1517.1 207.3,1540 212.5,1536.7 217.8,1517.1 223,1487.7 228.2,1468.1 233.5,1461.5 238.7,1451.7 244,1461.5 249.2,1474.6 254.4,1491 259.7,1500.8 264.9,1507.3 270.2,1517.1 275.4,1500.8 280.6,1471.3 285.9,1448.5 291.1,1438.6 296.4,1438.6 301.6,1441.9 306.8,1432.1 312.1,1432.1 317.3,1428.8 322.6,1412.5 327.8,1412.5 333,1419 338.3,1425.6 343.5,1435.4 348.8,1419 354,1422.3 359.2,1419 364.5,1441.9 369.7,1425.6 375,1471.3 380.2,1455 385.4,1441.9 390.7,1432.1 395.9,1415.8 401.2,1415.8 406.4,1438.6 411.6,1445.2 416.9,1448.5 422.1,1448.5 427.4,1451.7 432.6,1425.6 437.8,1389.6 443.1,1370 448.3,1356.9 453.6,1343.8 458.8,1337.3 464,1337.3 469.3,1330.7 474.5,1356.9 479.8,1373.2 485,1373.2 490.2,1373.2 495.5,1379.8 500.7,1376.5" fill="none" stroke="#1f8c82" stroke-width="2.3" stroke-linejoin="round" stroke-linecap="round"/>
<circle cx="196.8" cy="1343.8" r="1.9" fill="#1f8c82"/>
<circle cx="202" cy="1517.1" r="1.9" fill="#1f8c82"/>
<circle cx="207.3" cy="1540" r="1.9" fill="#1f8c82"/>
<circle cx="212.5" cy="1536.7" r="1.9" fill="#1f8c82"/>
<circle cx="217.8" cy="1517.1" r="1.9" fill="#1f8c82"/>
<circle cx="223" cy="1487.7" r="1.9" fill="#1f8c82"/>
<circle cx="228.2" cy="1468.1" r="1.9" fill="#1f8c82"/>
<circle cx="233.5" cy="1461.5" r="1.9" fill="#1f8c82"/>
<circle cx="238.7" cy="1451.7" r="1.9" fill="#1f8c82"/>
<circle cx="244" cy="1461.5" r="1.9" fill="#1f8c82"/>
<circle cx="249.2" cy="1474.6" r="1.9" fill="#1f8c82"/>
<circle cx="254.4" cy="1491" r="1.9" fill="#1f8c82"/>
<circle cx="259.7" cy="1500.8" r="1.9" fill="#1f8c82"/>
<circle cx="264.9" cy="1507.3" r="1.9" fill="#1f8c82"/>
<circle cx="270.2" cy="1517.1" r="1.9" fill="#1f8c82"/>
<circle cx="275.4" cy="1500.8" r="1.9" fill="#1f8c82"/>
<circle cx="280.6" cy="1471.3" r="1.9" fill="#1f8c82"/>
<circle cx="285.9" cy="1448.5" r="1.9" fill="#1f8c82"/>
<circle cx="291.1" cy="1438.6" r="1.9" fill="#1f8c82"/>
<circle cx="296.4" cy="1438.6" r="1.9" fill="#1f8c82"/>
<circle cx="301.6" cy="1441.9" r="1.9" fill="#1f8c82"/>
<circle cx="306.8" cy="1432.1" r="1.9" fill="#1f8c82"/>
<circle cx="312.1" cy="1432.1" r="1.9" fill="#1f8c82"/>
<circle cx="317.3" cy="1428.8" r="1.9" fill="#1f8c82"/>
<circle cx="322.6" cy="1412.5" r="1.9" fill="#1f8c82"/>
<circle cx="327.8" cy="1412.5" r="1.9" fill="#1f8c82"/>
<circle cx="333" cy="1419" r="1.9" fill="#1f8c82"/>
<circle cx="338.3" cy="1425.6" r="1.9" fill="#1f8c82"/>
<circle cx="343.5" cy="1435.4" r="1.9" fill="#1f8c82"/>
<circle cx="348.8" cy="1419" r="1.9" fill="#1f8c82"/>
<circle cx="354" cy="1422.3" r="1.9" fill="#1f8c82"/>
<circle cx="359.2" cy="1419" r="1.9" fill="#1f8c82"/>
<circle cx="364.5" cy="1441.9" r="1.9" fill="#1f8c82"/>
<circle cx="369.7" cy="1425.6" r="1.9" fill="#1f8c82"/>
<circle cx="375" cy="1471.3" r="1.9" fill="#1f8c82"/>
<circle cx="380.2" cy="1455" r="1.9" fill="#1f8c82"/>
<circle cx="385.4" cy="1441.9" r="1.9" fill="#1f8c82"/>
<circle cx="390.7" cy="1432.1" r="1.9" fill="#1f8c82"/>
<circle cx="395.9" cy="1415.8" r="1.9" fill="#1f8c82"/>
<circle cx="401.2" cy="1415.8" r="1.9" fill="#1f8c82"/>
<circle cx="406.4" cy="1438.6" r="1.9" fill="#1f8c82"/>
<circle cx="411.6" cy="1445.2" r="1.9" fill="#1f8c82"/>
<circle cx="416.9" cy="1448.5" r="1.9" fill="#1f8c82"/>
<circle cx="422.1" cy="1448.5" r="1.9" fill="#1f8c82"/>
<circle cx="427.4" cy="1451.7" r="1.9" fill="#1f8c82"/>
<circle cx="432.6" cy="1425.6" r="1.9" fill="#1f8c82"/>
<circle cx="437.8" cy="1389.6" r="1.9" fill="#1f8c82"/>
<circle cx="443.1" cy="1370" r="1.9" fill="#1f8c82"/>
<circle cx="448.3" cy="1356.9" r="1.9" fill="#1f8c82"/>
<circle cx="453.6" cy="1343.8" r="1.9" fill="#1f8c82"/>
<circle cx="458.8" cy="1337.3" r="1.9" fill="#1f8c82"/>
<circle cx="464" cy="1337.3" r="1.9" fill="#1f8c82"/>
<circle cx="469.3" cy="1330.7" r="1.9" fill="#1f8c82"/>
<circle cx="474.5" cy="1356.9" r="1.9" fill="#1f8c82"/>
<circle cx="479.8" cy="1373.2" r="1.9" fill="#1f8c82"/>
<circle cx="485" cy="1373.2" r="1.9" fill="#1f8c82"/>
<circle cx="490.2" cy="1373.2" r="1.9" fill="#1f8c82"/>
<circle cx="495.5" cy="1379.8" r="1.9" fill="#1f8c82"/>
<circle cx="500.7" cy="1376.5" r="1.9" fill="#1f8c82"/>
<text x="182.5" y="1313.5" font-size="10.8" fill="#000">BUMI</text>
<text x="178.5" y="1500.2" font-size="7.4" fill="#4d4d4d" text-anchor="end">100</text>
<text x="178.5" y="1434.8" font-size="7.4" fill="#4d4d4d" text-anchor="end">120</text>
<text x="178.5" y="1369.4" font-size="7.4" fill="#4d4d4d" text-anchor="end">140</text>
<text x="196.8" y="1560.5" font-size="7.4" fill="#4d4d4d" text-anchor="middle">0</text>
<text x="301.6" y="1560.5" font-size="7.4" fill="#4d4d4d" text-anchor="middle">20</text>
<text x="406.4" y="1560.5" font-size="7.4" fill="#4d4d4d" text-anchor="middle">40</text>
<text x="511.2" y="1560.5" font-size="7.4" fill="#4d4d4d" text-anchor="middle">60</text>
<text x="349.2" y="1571.5" font-size="9.3" fill="#000" text-anchor="middle">Time</text>
<text transform="translate(162 1434.4) rotate(-90)" font-size="9.3" fill="#000" text-anchor="middle">Price</text>
<text x="529.7" y="1421.6" font-size="9.3" fill="#000">Data Type</text>
<line x1="531.4" y1="1435.1" x2="543" y2="1435.1" stroke="#ee6a5e" stroke-width="2.3"/>
<circle cx="537.2" cy="1435.1" r="1.9" fill="#ee6a5e"/>
<text x="549.9" y="1437.8" font-size="7.4" fill="#000">Forecast</text>
<line x1="531.4" y1="1450" x2="543" y2="1450" stroke="#1f8c82" stroke-width="2.3"/>
<circle cx="537.2" cy="1450" r="1.9" fill="#1f8c82"/>
<text x="549.9" y="1452.7" font-size="7.4" fill="#000">Actual Data</text>
<line x1="716.6" y1="1320" x2="716.6" y2="1550.5" stroke="#f3f3f3" stroke-width="0.7"/>
<line x1="818.6" y1="1320" x2="818.6" y2="1550.5" stroke="#f3f3f3" stroke-width="0.7"/>
<line x1="920.6" y1="1320" x2="920.6" y2="1550.5" stroke="#f3f3f3" stroke-width="0.7"/>
<line x1="650.8" y1="1508.3" x2="976.2" y2="1508.3" stroke="#f3f3f3" stroke-width="0.7"/>
<line x1="650.8" y1="1455.1" x2="976.2" y2="1455.1" stroke="#f3f3f3" stroke-width="0.7"/>
<line x1="650.8" y1="1401.9" x2="976.2" y2="1401.9" stroke="#f3f3f3" stroke-width="0.7"/>
<line x1="650.8" y1="1348.7" x2="976.2" y2="1348.7" stroke="#f3f3f3" stroke-width="0.7"/>
<line x1="665.6" y1="1320" x2="665.6" y2="1550.5" stroke="#ebebeb" stroke-width="1.0"/>
<line x1="767.6" y1="1320" x2="767.6" y2="1550.5" stroke="#ebebeb" stroke-width="1.0"/>
<line x1="869.6" y1="1320" x2="869.6" y2="1550.5" stroke="#ebebeb" stroke-width="1.0"/>
<line x1="971.6" y1="1320" x2="971.6" y2="1550.5" stroke="#ebebeb" stroke-width="1.0"/>
<line x1="650.8" y1="1534.9" x2="976.2" y2="1534.9" stroke="#ebebeb" stroke-width="1.0"/>
<line x1="650.8" y1="1481.7" x2="976.2" y2="1481.7" stroke="#ebebeb" stroke-width="1.0"/>
<line x1="650.8" y1="1428.5" x2="976.2" y2="1428.5" stroke="#ebebeb" stroke-width="1.0"/>
<line x1="650.8" y1="1375.3" x2="976.2" y2="1375.3" stroke="#ebebeb" stroke-width="1.0"/>
<line x1="650.8" y1="1322.1" x2="976.2" y2="1322.1" stroke="#ebebeb" stroke-width="1.0"/>
<polyline points="680.9,1449.8 686,1449.8 691.1,1441.8 696.2,1436.5 701.3,1428.5 706.4,1354 711.5,1354 716.6,1396.6 721.7,1378 726.8,1378 731.9,1428.5 737,1396.6 742.1,1388.6 747.2,1393.9 752.3,1391.3 757.4,1407.2 762.5,1401.9 767.6,1356.7 772.7,1359.3 777.8,1423.2 782.9,1423.2 788,1423.2 793.1,1401.9 798.2,1364.7 803.3,1356.7 808.4,1388.6 813.5,1375.3 818.6,1378 823.7,1375.3 828.8,1385.9 833.9,1388.6 839,1391.3 844.1,1388.6 849.2,1383.3 854.3,1385.9 859.4,1383.3 864.5,1396.6 869.6,1393.9 874.7,1388.6 879.8,1388.6 884.9,1385.9 890,1415.2 895.1,1415.2 900.2,1407.2 905.3,1409.9 910.4,1407.2 915.5,1420.5 920.6,1425.8 925.7,1420.5 930.8,1417.9 935.9,1428.5 941,1460.4 946.1,1481.7 951.2,1524.3 956.3,1513.6 961.4,1505.6" fill="none" stroke="#f21c1c" stroke-width="2.3" stroke-linejoin="round" stroke-linecap="round"/>
<circle cx="680.9" cy="1449.8" r="1.9" fill="#f21c1c"/>
<circle cx="686" cy="1449.8" r="1.9" fill="#f21c1c"/>
<circle cx="691.1" cy="1441.8" r="1.9" fill="#f21c1c"/>
<circle cx="696.2" cy="1436.5" r="1.9" fill="#f21c1c"/>
<circle cx="701.3" cy="1428.5" r="1.9" fill="#f21c1c"/>
<circle cx="706.4" cy="1354" r="1.9" fill="#f21c1c"/>
<circle cx="711.5" cy="1354" r="1.9" fill="#f21c1c"/>
<circle cx="716.6" cy="1396.6" r="1.9" fill="#f21c1c"/>
<circle cx="721.7" cy="1378" r="1.9" fill="#f21c1c"/>
<circle cx="726.8" cy="1378" r="1.9" fill="#f21c1c"/>
<circle cx="731.9" cy="1428.5" r="1.9" fill="#f21c1c"/>
<circle cx="737" cy="1396.6" r="1.9" fill="#f21c1c"/>
<circle cx="742.1" cy="1388.6" r="1.9" fill="#f21c1c"/>
<circle cx="747.2" cy="1393.9" r="1.9" fill="#f21c1c"/>
<circle cx="752.3" cy="1391.3" r="1.9" fill="#f21c1c"/>
<circle cx="757.4" cy="1407.2" r="1.9" fill="#f21c1c"/>
<circle cx="762.5" cy="1401.9" r="1.9" fill="#f21c1c"/>
<circle cx="767.6" cy="1356.7" r="1.9" fill="#f21c1c"/>
<circle cx="772.7" cy="1359.3" r="1.9" fill="#f21c1c"/>
<circle cx="777.8" cy="1423.2" r="1.9" fill="#f21c1c"/>
<circle cx="782.9" cy="1423.2" r="1.9" fill="#f21c1c"/>
<circle cx="788" cy="1423.2" r="1.9" fill="#f21c1c"/>
<circle cx="793.1" cy="1401.9" r="1.9" fill="#f21c1c"/>
<circle cx="798.2" cy="1364.7" r="1.9" fill="#f21c1c"/>
<circle cx="803.3" cy="1356.7" r="1.9" fill="#f21c1c"/>
<circle cx="808.4" cy="1388.6" r="1.9" fill="#f21c1c"/>
<circle cx="813.5" cy="1375.3" r="1.9" fill="#f21c1c"/>
<circle cx="818.6" cy="1378" r="1.9" fill="#f21c1c"/>
<circle cx="823.7" cy="1375.3" r="1.9" fill="#f21c1c"/>
<circle cx="828.8" cy="1385.9" r="1.9" fill="#f21c1c"/>
<circle cx="833.9" cy="1388.6" r="1.9" fill="#f21c1c"/>
<circle cx="839" cy="1391.3" r="1.9" fill="#f21c1c"/>
<circle cx="844.1" cy="1388.6" r="1.9" fill="#f21c1c"/>
<circle cx="849.2" cy="1383.3" r="1.9" fill="#f21c1c"/>
<circle cx="854.3" cy="1385.9" r="1.9" fill="#f21c1c"/>
<circle cx="859.4" cy="1383.3" r="1.9" fill="#f21c1c"/>
<circle cx="864.5" cy="1396.6" r="1.9" fill="#f21c1c"/>
<circle cx="869.6" cy="1393.9" r="1.9" fill="#f21c1c"/>
<circle cx="874.7" cy="1388.6" r="1.9" fill="#f21c1c"/>
<circle cx="879.8" cy="1388.6" r="1.9" fill="#f21c1c"/>
<circle cx="884.9" cy="1385.9" r="1.9" fill="#f21c1c"/>
<circle cx="890" cy="1415.2" r="1.9" fill="#f21c1c"/>
<circle cx="895.1" cy="1415.2" r="1.9" fill="#f21c1c"/>
<circle cx="900.2" cy="1407.2" r="1.9" fill="#f21c1c"/>
<circle cx="905.3" cy="1409.9" r="1.9" fill="#f21c1c"/>
<circle cx="910.4" cy="1407.2" r="1.9" fill="#f21c1c"/>
<circle cx="915.5" cy="1420.5" r="1.9" fill="#f21c1c"/>
<circle cx="920.6" cy="1425.8" r="1.9" fill="#f21c1c"/>
<circle cx="925.7" cy="1420.5" r="1.9" fill="#f21c1c"/>
<circle cx="930.8" cy="1417.9" r="1.9" fill="#f21c1c"/>
<circle cx="935.9" cy="1428.5" r="1.9" fill="#f21c1c"/>
<circle cx="941" cy="1460.4" r="1.9" fill="#f21c1c"/>
<circle cx="946.1" cy="1481.7" r="1.9" fill="#f21c1c"/>
<circle cx="951.2" cy="1524.3" r="1.9" fill="#f21c1c"/>
<circle cx="956.3" cy="1513.6" r="1.9" fill="#f21c1c"/>
<circle cx="961.4" cy="1505.6" r="1.9" fill="#f21c1c"/>
<polyline points="665.6,1473.7 670.7,1471.1 675.8,1460.4 680.9,1447.1 686,1444.5 691.1,1439.1 696.2,1433.8 701.3,1423.2 706.4,1348.7 711.5,1330.1 716.6,1372.6 721.7,1372.6 726.8,1372.6 731.9,1425.8 737,1407.2 742.1,1391.3 747.2,1393.9 752.3,1391.3 757.4,1407.2 762.5,1404.6 767.6,1356.7 772.7,1351.4 777.8,1412.5 782.9,1431.2 788,1433.8 793.1,1409.9 798.2,1364.7 803.3,1351.4 808.4,1375.3 813.5,1372.6 818.6,1375.3 823.7,1375.3 828.8,1385.9 833.9,1387.5 839,1391.3 844.1,1388.6 849.2,1383.3 854.3,1385.9 859.4,1383.3 864.5,1396.6 869.6,1393.9 874.7,1388.6 879.8,1388.6 884.9,1385.9 890,1417.9 895.1,1420.5 900.2,1412.5 905.3,1409.9 910.4,1407.2 915.5,1420.5 920.6,1428.5 925.7,1420.5 930.8,1417.9 935.9,1428.5 941,1460.4 946.1,1492.3 951.2,1540.2 956.3,1540.2 961.4,1524.3" fill="none" stroke="#111111" stroke-width="2.3" stroke-linejoin="round" stroke-linecap="round"/>
<circle cx="665.6" cy="1473.7" r="1.9" fill="#111111"/>
<circle cx="670.7" cy="1471.1" r="1.9" fill="#111111"/>
<circle cx="675.8" cy="1460.4" r="1.9" fill="#111111"/>
<circle cx="680.9" cy="1447.1" r="1.9" fill="#111111"/>
<circle cx="686" cy="1444.5" r="1.9" fill="#111111"/>
<circle cx="691.1" cy="1439.1" r="1.9" fill="#111111"/>
<circle cx="696.2" cy="1433.8" r="1.9" fill="#111111"/>
<circle cx="701.3" cy="1423.2" r="1.9" fill="#111111"/>
<circle cx="706.4" cy="1348.7" r="1.9" fill="#111111"/>
<circle cx="711.5" cy="1330.1" r="1.9" fill="#111111"/>
<circle cx="716.6" cy="1372.6" r="1.9" fill="#111111"/>
<circle cx="721.7" cy="1372.6" r="1.9" fill="#111111"/>
<circle cx="726.8" cy="1372.6" r="1.9" fill="#111111"/>
<circle cx="731.9" cy="1425.8" r="1.9" fill="#111111"/>
<circle cx="737" cy="1407.2" r="1.9" fill="#111111"/>
<circle cx="742.1" cy="1391.3" r="1.9" fill="#111111"/>
<circle cx="747.2" cy="1393.9" r="1.9" fill="#111111"/>
<circle cx="752.3" cy="1391.3" r="1.9" fill="#111111"/>
<circle cx="757.4" cy="1407.2" r="1.9" fill="#111111"/>
<circle cx="762.5" cy="1404.6" r="1.9" fill="#111111"/>
<circle cx="767.6" cy="1356.7" r="1.9" fill="#111111"/>
<circle cx="772.7" cy="1351.4" r="1.9" fill="#111111"/>
<circle cx="777.8" cy="1412.5" r="1.9" fill="#111111"/>
<circle cx="782.9" cy="1431.2" r="1.9" fill="#111111"/>
<circle cx="788" cy="1433.8" r="1.9" fill="#111111"/>
<circle cx="793.1" cy="1409.9" r="1.9" fill="#111111"/>
<circle cx="798.2" cy="1364.7" r="1.9" fill="#111111"/>
<circle cx="803.3" cy="1351.4" r="1.9" fill="#111111"/>
<circle cx="808.4" cy="1375.3" r="1.9" fill="#111111"/>
<circle cx="813.5" cy="1372.6" r="1.9" fill="#111111"/>
<circle cx="818.6" cy="1375.3" r="1.9" fill="#111111"/>
<circle cx="823.7" cy="1375.3" r="1.9" fill="#111111"/>
<circle cx="828.8" cy="1385.9" r="1.9" fill="#111111"/>
<circle cx="833.9" cy="1387.5" r="1.9" fill="#111111"/>
<circle cx="839" cy="1391.3" r="1.9" fill="#111111"/>
<circle cx="844.1" cy="1388.6" r="1.9" fill="#111111"/>
<circle cx="849.2" cy="1383.3" r="1.9" fill="#111111"/>
<circle cx="854.3" cy="1385.9" r="1.9" fill="#111111"/>
<circle cx="859.4" cy="1383.3" r="1.9" fill="#111111"/>
<circle cx="864.5" cy="1396.6" r="1.9" fill="#111111"/>
<circle cx="869.6" cy="1393.9" r="1.9" fill="#111111"/>
<circle cx="874.7" cy="1388.6" r="1.9" fill="#111111"/>
<circle cx="879.8" cy="1388.6" r="1.9" fill="#111111"/>
<circle cx="884.9" cy="1385.9" r="1.9" fill="#111111"/>
<circle cx="890" cy="1417.9" r="1.9" fill="#111111"/>
<circle cx="895.1" cy="1420.5" r="1.9" fill="#111111"/>
<circle cx="900.2" cy="1412.5" r="1.9" fill="#111111"/>
<circle cx="905.3" cy="1409.9" r="1.9" fill="#111111"/>
<circle cx="910.4" cy="1407.2" r="1.9" fill="#111111"/>
<circle cx="915.5" cy="1420.5" r="1.9" fill="#111111"/>
<circle cx="920.6" cy="1428.5" r="1.9" fill="#111111"/>
<circle cx="925.7" cy="1420.5" r="1.9" fill="#111111"/>
<circle cx="930.8" cy="1417.9" r="1.9" fill="#111111"/>
<circle cx="935.9" cy="1428.5" r="1.9" fill="#111111"/>
<circle cx="941" cy="1460.4" r="1.9" fill="#111111"/>
<circle cx="946.1" cy="1492.3" r="1.9" fill="#111111"/>
<circle cx="951.2" cy="1540.2" r="1.9" fill="#111111"/>
<circle cx="956.3" cy="1540.2" r="1.9" fill="#111111"/>
<circle cx="961.4" cy="1524.3" r="1.9" fill="#111111"/>
<text x="651.4" y="1313" font-size="10.8" fill="#000">BYAN</text>
<text x="648" y="1537.6" font-size="7.4" fill="#4d4d4d" text-anchor="end">19000</text>
<text x="648" y="1484.4" font-size="7.4" fill="#4d4d4d" text-anchor="end">19500</text>
<text x="648" y="1431.2" font-size="7.4" fill="#4d4d4d" text-anchor="end">20000</text>
<text x="648" y="1378" font-size="7.4" fill="#4d4d4d" text-anchor="end">20500</text>
<text x="648" y="1324.8" font-size="7.4" fill="#4d4d4d" text-anchor="end">21000</text>
<text x="665.6" y="1560.5" font-size="7.4" fill="#4d4d4d" text-anchor="middle">0</text>
<text x="767.6" y="1560.5" font-size="7.4" fill="#4d4d4d" text-anchor="middle">20</text>
<text x="869.6" y="1560.5" font-size="7.4" fill="#4d4d4d" text-anchor="middle">40</text>
<text x="971.6" y="1560.5" font-size="7.4" fill="#4d4d4d" text-anchor="middle">60</text>
<text x="814" y="1572" font-size="9.3" fill="#000" text-anchor="middle">Time</text>
<text transform="translate(622 1435) rotate(-90)" font-size="9.3" fill="#000" text-anchor="middle">Price</text>
<text x="990.7" y="1421.6" font-size="9.3" fill="#000">Data Type</text>
<line x1="991.5" y1="1435.1" x2="1003.6" y2="1435.1" stroke="#f21c1c" stroke-width="2.3"/>
<circle cx="997.5" cy="1435.1" r="1.9" fill="#f21c1c"/>
<text x="1010.5" y="1437.8" font-size="7.4" fill="#000">Forecast</text>
<line x1="991.5" y1="1450" x2="1003.6" y2="1450" stroke="#111111" stroke-width="2.3"/>
<circle cx="997.5" cy="1450" r="1.9" fill="#111111"/>
<text x="1010.5" y="1452.7" font-size="7.4" fill="#000">Actual Data</text>
</svg>
</body></html>
